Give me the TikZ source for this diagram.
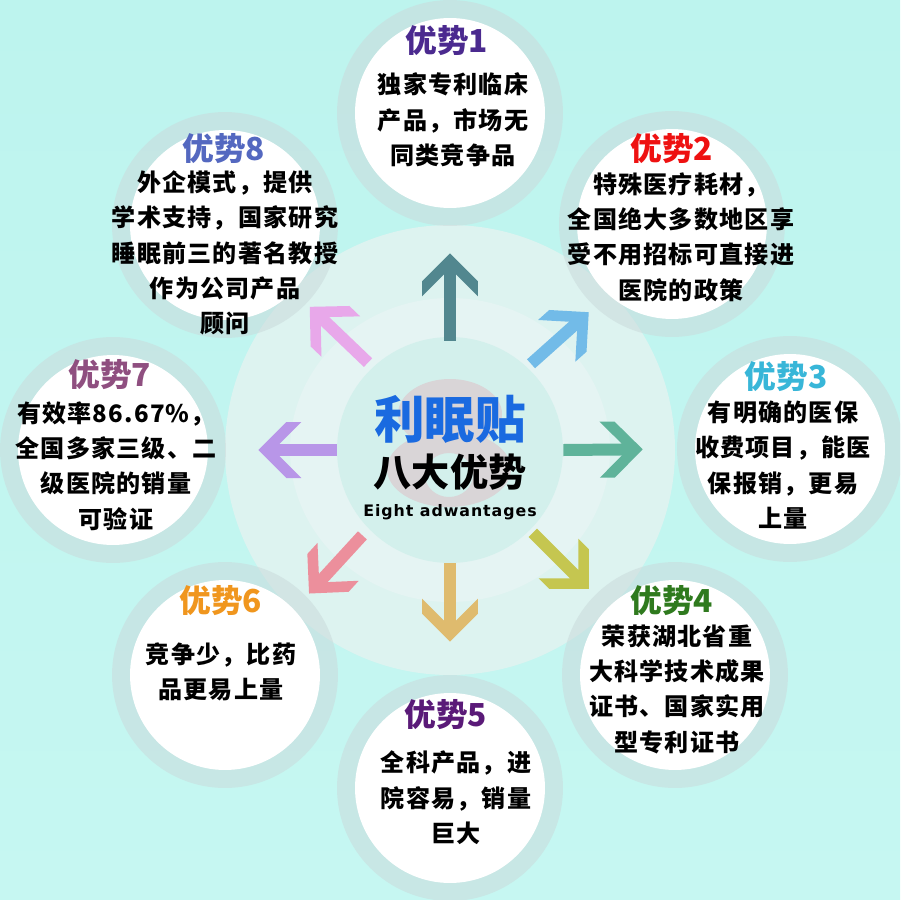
\documentclass[tikz,border=0pt]{standalone}
\usepackage{fontspec}
\usetikzlibrary{arrows.meta}
\newfontfamily\cjkfont[LetterSpace=5]{Noto Sans CJK SC}
\newfontfamily\cjktitle{Noto Sans CJK SC}
\newfontfamily\latinfont[LetterSpace=6]{DejaVu Sans}
\definecolor{bgtop}{HTML}{BDF4EE}
\definecolor{bgbottom}{HTML}{C6F7F2}
\definecolor{ringcol}{RGB}{202,219,220}
\definecolor{bigdisc}{HTML}{DDF3F0}
\definecolor{middisc}{HTML}{E5F4F3}
\definecolor{hubdisc}{HTML}{D3F0EC}
\definecolor{eightgray}{HTML}{D9D5D7}
\definecolor{hubblue}{HTML}{1A6AE0}
\definecolor{arrowa}{HTML}{52878F}
\definecolor{arrowb}{HTML}{72BBE8}
\definecolor{arrowc}{HTML}{5FB39A}
\definecolor{arrowd}{HTML}{C5C650}
\definecolor{arrowe}{HTML}{DFBB6E}
\definecolor{arrowf}{HTML}{EC8F9C}
\definecolor{arrowg}{HTML}{B896E8}
\definecolor{arrowh}{HTML}{E8A8EA}
% fat arrow head, wings cut parallel to the shaft
\pgfdeclarearrow{
  name=FatHead,
  setup code={
    \pgfarrowssettipend{0pt}
    \pgfarrowssetlineend{-3mm}
    \pgfarrowssetbackend{-8.6mm}
    \pgfarrowssetvisualbackend{-3mm}
    \pgfarrowshullpoint{0pt}{0pt}
    \pgfarrowsupperhullpoint{-8.6mm}{5.6mm}
  },
  drawing code={
    \pgfpathmoveto{\pgfpoint{0pt}{0pt}}
    \pgfpathlineto{\pgfpoint{-5.6mm}{5.6mm}}
    \pgfpathlineto{\pgfpoint{-8.6mm}{5.6mm}}
    \pgfpathlineto{\pgfpoint{-4.2mm}{1.2mm}}
    \pgfpathlineto{\pgfpoint{-4.2mm}{-1.2mm}}
    \pgfpathlineto{\pgfpoint{-8.6mm}{-5.6mm}}
    \pgfpathlineto{\pgfpoint{-5.6mm}{-5.6mm}}
    \pgfpathclose
    \pgfusepathqfill
  }
}
\tikzset{
  ring/.style={circle,fill=ringcol,fill opacity=.57,minimum size=45.2mm,inner sep=0pt},
  face/.style={circle,fill=white,minimum size=38mm,inner sep=0pt},
  fatarrow/.style={line width=2.4mm,-FatHead,draw=#1},
  titletext/.style={font=\fontsize{18}{20}\cjktitle\bfseries,inner sep=0pt},
  bodytext/.style={font=\fontsize{13.7}{20.1}\cjkfont\bfseries,align=center,inner sep=0pt}
}
\begin{document}
\begin{tikzpicture}[x=0.02cm,y=-0.02cm]
    \clip (0,0) rectangle (900,900);
    \shade[top color=bgtop,bottom color=bgbottom] (0,0) rectangle (900,900);

    % discs behind the hub
    \fill[bigdisc] (450,450) circle (225);
    \fill[middisc] (450,450) ellipse (160 and 152);
    \node[circle,fill=hubdisc,minimum size=45.2mm,inner sep=0pt] (hub) at (450,450) {};

    % the grey 8
    \fill[eightgray] (450,414) ellipse (52 and 35);
    \fill[eightgray,even odd rule] (449,469) ellipse (62 and 38) (449,475) ellipse (24 and 22);

    \foreach \num/\x/\y in {1/450/113, 2/672/224, 3/790/449, 4/675/675, 5/450/788, 6/225/675, 7/113/450, 8/225/225}
    {
            \node[ring] (R-\num) at (\x,\y) {};
            \node[face] (F-\num) at (\x,\y) {};
    }

    \draw[fatarrow=arrowa,shorten <=-0.8mm,shorten >=5.4mm] (hub.90) -- (R-1.270);
    \draw[fatarrow=arrowb,shorten <=1mm,shorten >=1.6mm] (hub.47) -- (R-2.227);
    \draw[fatarrow=arrowc,shorten >=6.8mm] (hub.0) -- (R-3.180);
    \draw[fatarrow=arrowd,shorten <=0.75mm,shorten >=1.7mm] (hub.-45) -- (R-4.135);
    \draw[fatarrow=arrowe,shorten >=6.6mm] (hub.-90) -- (R-5.90);
    \draw[fatarrow=arrowf,shorten <=1.8mm,shorten >=0.75mm] (hub.-136.6) -- (R-6.44.6);
    \draw[fatarrow=arrowg,shorten >=6.4mm] (hub.180) -- (R-7.0);
    \draw[fatarrow=arrowh,shorten <=1.3mm,shorten >=0.9mm] (hub.133.1) -- (R-8.-44.4);

    \foreach \num/\tx/\ty/\bx/\by/\col/\body in {
        1/447/41/453/120/4B2A8F/{独家专利临床\\产品，市场无\\同类竞争品},
        2/672/149/681/237/EE1111/{特殊医疗耗材，\\全国绝大多数地区享\\受不用招标可直接进\\医院的政策},
        3/786/377/783/465/38B6D8/{有明确的医保\\收费项目，能医\\保报销，更易\\上量},
        4/672/601/677/689/2F7A1E/{荣获湖北省重\\大科学技术成果\\证书、国家实用\\型专利证书},
        5/446/715/456/798/5A1A78/{全科产品，进\\院容易，销量\\巨大},
        6/221/601/221/672/F0961E/{竞争少，比药\\品更易上量},
        7/110/375/116/466/8F4F80/{有效率86.67\%，\\全国多家三级、二\\级医院的销量\\可验证},
        8/224/149/225/253/5468C0/{外企模式，提供\\学术支持，国家研究\\睡眠前三的著名教授\\作为公司产品\\顾问}}
    {
        \definecolor{titlecol}{HTML}{\col}
        \node[titletext,text=titlecol] (T-\num) at (\tx,\ty) {优势\num};
        \node[bodytext] (B-\num) at (\bx,\by) {\body};
    }

    \node[font=\fontsize{28.8}{32}\cjktitle\bfseries,text=hubblue,inner sep=0pt] (H-name) at (450,419) {利眠贴};
    \node[font=\fontsize{21.7}{25}\cjktitle\bfseries,inner sep=0pt] (H-sub) at (450,472) {八大优势};
    \node[font=\fontsize{9}{10}\latinfont\bfseries,inner sep=0pt] (H-en) at (450,512) {Eight adwantages};
\end{tikzpicture}
\end{document}
